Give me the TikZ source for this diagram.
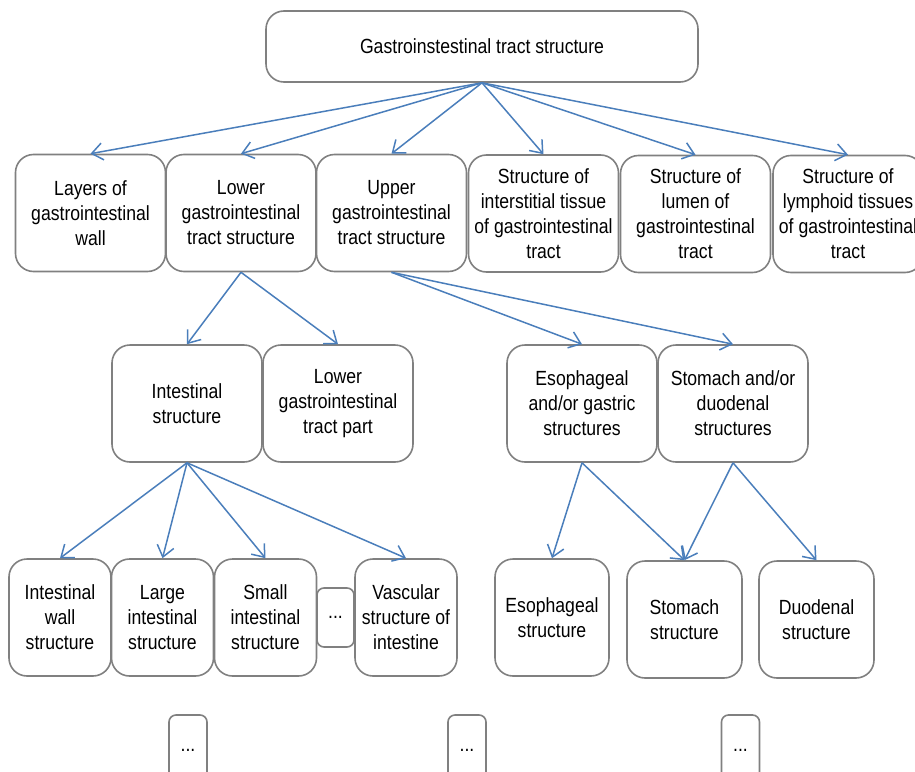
\documentclass[tikz,border=0pt]{standalone}
\usepackage{fontspec}
\setmainfont{Liberation Sans}[FakeStretch=0.86]
\usetikzlibrary{arrows.meta}
\definecolor{boxgray}{RGB}{128,128,128}
\definecolor{arrowblue}{RGB}{74,126,187}
\begin{document}
\begin{tikzpicture}[x=1pt,y=-1pt,
  box/.style={draw=boxgray,line width=1.6pt,rounded corners=18pt,align=center,inner sep=0pt,
    font=\fontsize{20.5}{25}\selectfont,text=black},
  wide/.style={box,minimum width=150pt,minimum height=117pt},
  narrow/.style={box,minimum width=102pt,minimum height=117pt},
  mid/.style={box,minimum width=115pt,minimum height=117pt},
  dots/.style={box,rounded corners=7pt,minimum width=38pt},
  conn/.style={draw=arrowblue,line width=1.5pt,-{Straight Barb[length=11pt,width=17pt,line width=1.5pt]}}]
\useasboundingbox (0,0) rectangle (915,771);
\clip (0,0) rectangle (915,771);
% top
\node[box,minimum width=432pt,minimum height=71pt] (top) at (482,46.5) {Gastroinstestinal tract structure};
% row 2
\node[wide] (layers) at (90.5,213) {Layers of\\gastrointestinal\\wall};
\node[wide] (lower) at (241,213) {Lower\\gastrointestinal\\tract structure};
\node[wide] (upper) at (391.5,213) {Upper\\gastrointestinal\\tract structure};
\node[wide] (inter) at (543.5,213.5) {Structure of\\interstitial tissue\\of gastrointestinal\\tract};
\node[wide] (lumen) at (695.5,214) {Structure of\\lumen of\\gastrointestinal\\tract};
\node[wide] (lymph) at (848,214) {Structure of\\lymphoid tissues\\of gastrointestinal\\tract};
% row 3
\node[wide] (intest) at (187,403.5) {Intestinal\\structure};
\node[wide] (lowpart) at (338,403.5) {Lower\\gastrointestinal\\tract part};
\node[wide] (esogas) at (582,403.5) {Esophageal\\and/or gastric\\structures};
\node[wide] (stoduo) at (733,403.5) {Stomach and/or\\duodenal\\structures};
% row 4
\node[narrow] (wall) at (60,617.5) {Intestinal\\wall\\structure};
\node[narrow] (large) at (162.5,617.5) {Large\\intestinal\\structure};
\node[narrow] (small) at (265.5,617.5) {Small\\intestinal\\structure};
\node[dots,minimum width=37pt,minimum height=59pt] (idots) at (335.5,617.5) {...};
\node[narrow] (vasc) at (406,617.5) {Vascular\\structure of\\intestine};
\node[mid,minimum width=114pt] (eso) at (552,617.5) {Esophageal\\structure};
\node[mid] (stom) at (684.5,619.5) {Stomach\\structure};
\node[mid] (duod) at (816.5,619.5) {Duodenal\\structure};
% bottom dots
\node[dots,minimum height=70pt] (d1) at (188,750) {...};
\node[dots,minimum height=70pt] (d2) at (467,750) {...};
\node[dots,minimum height=70pt] (d3) at (740.5,750) {...};
% connectors
\foreach \t in {layers,lower,upper,inter,lumen,lymph}
  \draw[conn] (top.south) -- (\t.north);
\draw[conn] (lower.south) -- (intest.north);
\draw[conn] (lower.south) -- (lowpart.north);
\draw[conn] (upper.south) -- (esogas.north);
\draw[conn] (upper.south) -- (stoduo.north);
\foreach \t in {wall,large,small,vasc}
  \draw[conn] (intest.south) -- (\t.north);
\draw[conn] (esogas.south) -- (eso.north);
\draw[conn] (esogas.south) -- (stom.north);
\draw[conn] (stoduo.south) -- (stom.north);
\draw[conn] (stoduo.south) -- (duod.north);
\end{tikzpicture}
\end{document}
